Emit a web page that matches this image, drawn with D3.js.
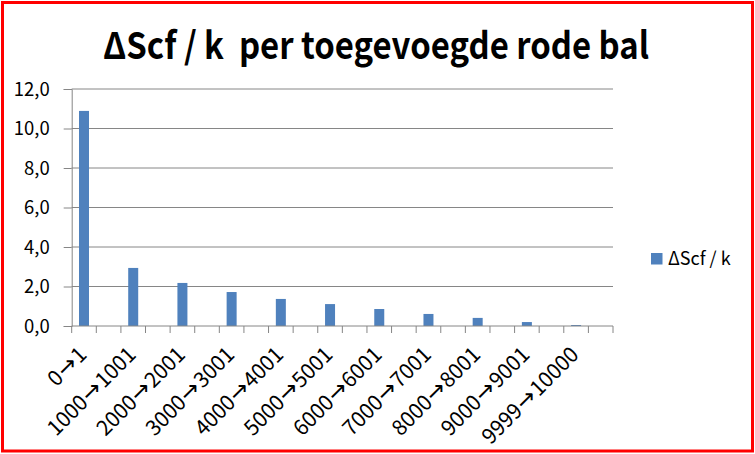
<!DOCTYPE html>
<html><head><meta charset="utf-8">
<script src="https://cdn.jsdelivr.net/npm/d3@7"></script>
<style>
html,body{margin:0;padding:0;background:#fff;}
svg{display:block;}
</style></head>
<body>
<svg id="c" width="755" height="454"></svg>
<script>
const title = "ΔScf / k  per toegevoegde rode bal";
const seriesName = "ΔScf / k";
const categories = ["0→1","1000→1001","2000→2001","3000→3001","4000→4001","5000→5001","6000→6001","7000→7001","8000→8001","9000→9001","9999→10000"];
const values = [10.89, 2.94, 2.18, 1.72, 1.37, 1.11, 0.86, 0.61, 0.41, 0.20, 0.05];
const yTicks = [0, 2, 4, 6, 8, 10, 12];

(function () {
const svg = d3.select("#c");
const W = 755, H = 454;
svg.append("rect").attr("width", W).attr("height", H).attr("fill", "#fff");
svg.append("rect").attr("x", 2.5).attr("y", 2.5).attr("width", 750).attr("height", 448.5)
  .attr("fill", "none").attr("stroke", "#ff0000").attr("stroke-width", 3);

const pLeft = 71.7, pRight = 613, pTop = 89, pBottom = 326;
// each category occupies two slots (every other slot is empty, as in the source)
const slots = d3.range(categories.length * 2);
const x = d3.scaleBand().domain(slots).range([pLeft, pRight]).paddingInner(0).paddingOuter(0);
const y = d3.scaleLinear().domain([0, 12]).range([pBottom, pTop]);

const grid = "#868686";
const font = "'Noto Sans CJK JP', 'Liberation Sans', sans-serif";

// gridlines + y axis
const yAxis = d3.axisLeft(y).tickValues(yTicks).tickSize(8)
  .tickFormat(d => d3.format(".1f")(d).replace(".", ","));
const gy = svg.append("g").attr("transform", `translate(${pLeft},0)`).call(yAxis);
gy.select(".domain").attr("stroke", grid);
gy.selectAll(".tick line").attr("stroke", grid);
gy.selectAll(".tick text").attr("font-family", font).attr("font-size", 18.5).attr("fill", "#000")
  .attr("x", -22).attr("dy", "0.35em");
svg.append("g").selectAll("line").data(yTicks.filter(d => d > 0)).join("line")
  .attr("x1", pLeft).attr("x2", pRight).attr("y1", d => y(d)).attr("y2", d => y(d))
  .attr("stroke", grid).attr("stroke-width", 1);

// bars
const barW = 10;
svg.append("g").selectAll("rect").data(values).join("rect")
  .attr("x", (d, i) => x(i * 2) + x.bandwidth() / 2 - barW / 2)
  .attr("y", d => y(d)).attr("width", barW).attr("height", d => y(0) - y(d))
  .attr("fill", "#4f81bd");

// x axis
svg.append("line").attr("x1", pLeft).attr("x2", pRight).attr("y1", pBottom).attr("y2", pBottom)
  .attr("stroke", grid);
svg.append("g").selectAll("line").data(d3.range(slots.length + 1)).join("line")
  .attr("x1", i => pLeft + i * x.bandwidth()).attr("x2", i => pLeft + i * x.bandwidth())
  .attr("y1", pBottom).attr("y2", pBottom + 7).attr("stroke", grid);
const lab = svg.append("g").selectAll("text").data(categories).join("text")
  .attr("transform", (d, i) => `translate(${x(i * 2) + x.bandwidth() / 2 + 4},${pBottom + 30}) rotate(-45)`)
  .attr("text-anchor", "end").attr("font-family", font).attr("font-size", 21).attr("fill", "#000");
lab.each(function (d) {
  const parts = d.split("→");
  const el = d3.select(this);
  el.append("tspan").text(parts[0]);
  el.append("tspan").attr("font-family", "'DejaVu Sans', sans-serif").attr("font-size", 23)
    .attr("dx", 1).text("→");
  el.append("tspan").attr("dx", 1).text(parts[1]);
});

// legend
svg.append("rect").attr("x", 651).attr("y", 253).attr("width", 11.5).attr("height", 11.5).attr("fill", "#4f81bd");
svg.append("text").attr("x", 668).attr("y", 265).attr("font-family", font).attr("font-size", 18)
  .attr("fill", "#000").text(seriesName);

// title
svg.append("text").attr("x", 103).attr("y", 59)
  .attr("font-family", font).attr("font-weight", "bold").attr("font-size", 37).attr("fill", "#000")
  .attr("textLength", 546).attr("lengthAdjust", "spacingAndGlyphs")
  .attr("xml:space", "preserve").style("white-space", "pre").text(title);
})();
</script>
</body></html>
